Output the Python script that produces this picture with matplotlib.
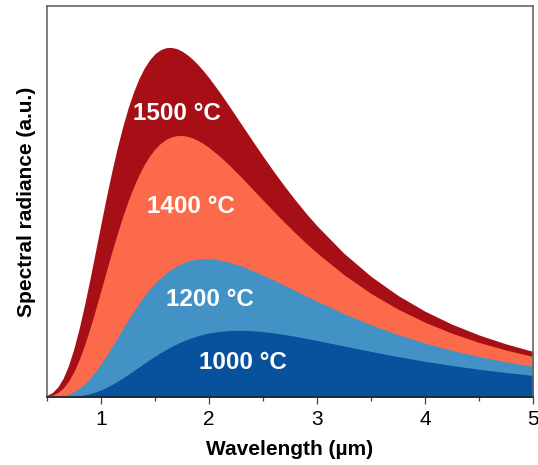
import matplotlib
matplotlib.use("Agg")
import matplotlib.pyplot as plt
from matplotlib.ticker import MultipleLocator

# wavelength grid (µm) and radiance (a.u.)
wavelength = [0.5, 0.55, 0.6, 0.65, 0.7, 0.75, 0.8, 0.85, 0.9, 0.95,
              1.0, 1.05, 1.1, 1.15, 1.2, 1.25, 1.3, 1.35, 1.4, 1.45,
              1.5, 1.55, 1.6, 1.65, 1.7, 1.75, 1.8, 1.85, 1.9, 1.95,
              2.0, 2.1, 2.2, 2.3, 2.4, 2.5, 2.6, 2.7, 2.8, 2.9,
              3.0, 3.25, 3.5, 3.75, 4.0, 4.25, 4.5, 4.75, 5.0]

rad_1000 = [0.000, 0.000, 0.001, 0.002, 0.005, 0.011, 0.019, 0.033, 0.052, 0.077,
            0.107, 0.144, 0.186, 0.233, 0.284, 0.338, 0.393, 0.449, 0.505, 0.559,
            0.612, 0.663, 0.710, 0.755, 0.796, 0.832, 0.865, 0.894, 0.920, 0.941,
            0.959, 0.984, 0.998, 1.000, 0.994, 0.980, 0.960, 0.936, 0.909, 0.879,
            0.847, 0.765, 0.683, 0.606, 0.535, 0.472, 0.416, 0.367, 0.324]
rad_1200 = [0.001, 0.003, 0.010, 0.022, 0.045, 0.081, 0.132, 0.200, 0.285, 0.385,
            0.498, 0.621, 0.752, 0.886, 1.020, 1.152, 1.279, 1.399, 1.511, 1.613,
            1.704, 1.785, 1.856, 1.915, 1.964, 2.004, 2.034, 2.055, 2.068, 2.074,
            2.073, 2.053, 2.015, 1.962, 1.898, 1.827, 1.751, 1.672, 1.593, 1.513,
            1.435, 1.250, 1.083, 0.936, 0.809, 0.700, 0.607, 0.528, 0.460]
rad_1400 = [0.009, 0.028, 0.067, 0.135, 0.239, 0.384, 0.569, 0.791, 1.043, 1.317,
            1.602, 1.890, 2.174, 2.446, 2.701, 2.934, 3.143, 3.326, 3.483, 3.614,
            3.719, 3.801, 3.860, 3.898, 3.917, 3.920, 3.907, 3.881, 3.843, 3.795,
            3.739, 3.607, 3.455, 3.292, 3.122, 2.951, 2.782, 2.616, 2.457, 2.304,
            2.159, 1.832, 1.552, 1.317, 1.120, 0.956, 0.818, 0.704, 0.607]
rad_1500 = [0.025, 0.068, 0.150, 0.284, 0.478, 0.733, 1.044, 1.400, 1.788, 2.194,
            2.602, 3.001, 3.380, 3.731, 4.047, 4.327, 4.567, 4.768, 4.929, 5.054,
            5.146, 5.204, 5.235, 5.240, 5.222, 5.184, 5.128, 5.059, 4.976, 4.884,
            4.784, 4.564, 4.329, 4.087, 3.846, 3.608, 3.378, 3.158, 2.949, 2.751,
            2.566, 2.153, 1.808, 1.522, 1.286, 1.091, 0.930, 0.796, 0.684]

series = [
    ("1500 °C", rad_1500, "#A50F15", (1.70, 4.157)),
    ("1400 °C", rad_1400, "#FB6A4A", (1.834, 2.754)),
    ("1200 °C", rad_1200, "#4292C6", (2.012, 1.360)),
    ("1000 °C", rad_1000, "#08519C", (2.312, 0.415)),
]

plt.rcParams["font.family"] = ["Liberation Sans", "DejaVu Sans"]

fig = plt.figure(figsize=(5.38, 4.65), dpi=100)
ax = fig.add_axes([0.0874, 0.1462, 0.9033, 0.8409])

for label, ys, color, (tx, ty) in series:
    ax.fill_between(wavelength, 0, ys, color=color, linewidth=0)

for label, ys, color, (tx, ty) in series:
    ax.text(tx, ty, label, color="white", fontsize=17.5, fontweight="bold",
            ha="center", va="baseline")

ax.set_xlim(0.5, 5)
ax.set_ylim(0, 5.86)
ax.xaxis.set_major_locator(MultipleLocator(1))
ax.xaxis.set_minor_locator(MultipleLocator(0.5))
ax.set_yticks([])
ax.tick_params(axis="x", which="major", length=5, width=0.9, color="#444444",
               labelsize=15, pad=4)
ax.tick_params(axis="x", which="minor", length=3, width=0.9, color="#444444")

for side in ["top", "right", "left"]:
    ax.spines[side].set_color("#666666")
    ax.spines[side].set_linewidth(1.2)
ax.spines["bottom"].set_color("#222222")
ax.spines["bottom"].set_linewidth(1.2)

ax.set_xlabel("Wavelength (µm)", fontsize=15, fontweight="bold", labelpad=8)
ax.set_ylabel("Spectral radiance (a.u.)", fontsize=15, fontweight="bold",
              labelpad=8)

fig.savefig("out.png", dpi=100)
